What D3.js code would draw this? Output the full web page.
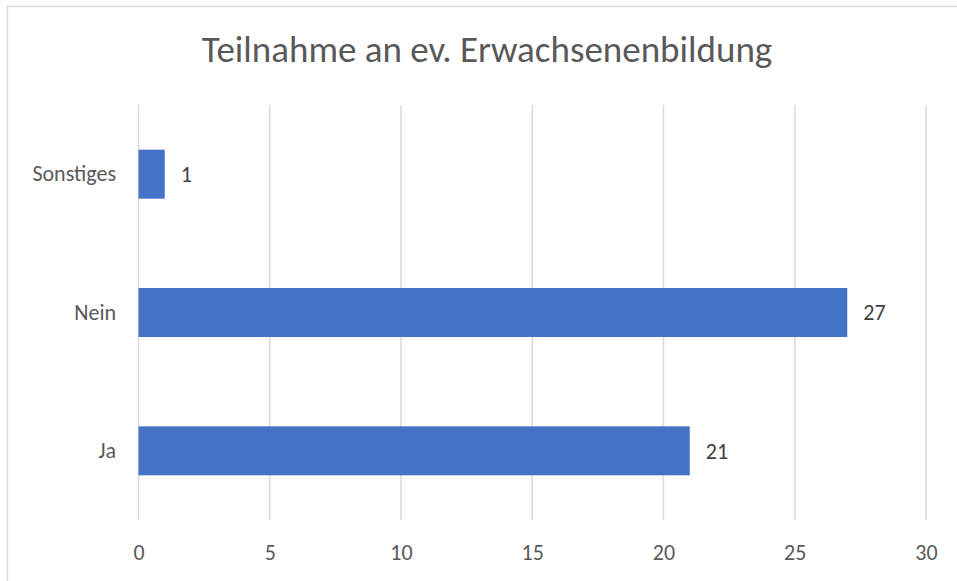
<!DOCTYPE html>
<html>
<head>
<meta charset="utf-8">
<script src="https://d3js.org/d3.v7.min.js"></script>
<style>
  body { margin: 0; background: #fff; }
  text { font-family: Carlito, Lato, "Open Sans", sans-serif; fill: #595959; }
</style>
</head>
<body>
<script>
// chart data
var categories = ["Sonstiges", "Nein", "Ja"];
var values = [1, 27, 21];
var xTicks = [0, 5, 10, 15, 20, 25, 30];
var title = "Teilnahme an ev. Erwachsenenbildung";

var width = 957, height = 581;
var plot = { left: 138.5, right: 926, top: 105, bottom: 520 };

var svg = d3.select("body").append("svg")
    .attr("width", width)
    .attr("height", height);

// outer chart border (runs off the right and bottom)
svg.append("rect")
    .attr("x", 7.5).attr("y", 6.5)
    .attr("width", 970).attr("height", 600)
    .attr("fill", "#fff")
    .attr("stroke", "#d9d9d9")
    .attr("stroke-width", 1.5);

svg.append("text")
    .attr("x", 487).attr("y", 62)
    .attr("text-anchor", "middle")
    .style("font-size", "37px")
    .text(title);

var x = d3.scaleLinear().domain([0, 30]).range([plot.left, plot.right]);
var y = d3.scaleBand().domain(categories)
    .range([plot.top, plot.bottom])
    .paddingInner(0.646).paddingOuter(0.323);

// gridlines
svg.append("g").selectAll("line")
    .data(xTicks).enter().append("line")
    .attr("x1", d => x(d)).attr("x2", d => x(d))
    .attr("y1", plot.top).attr("y2", plot.bottom)
    .attr("stroke", "#d9d9d9")
    .attr("stroke-width", 1.5);

// x axis labels
var xAxis = d3.axisBottom(x).tickValues(xTicks).tickSize(0).tickPadding(0);
var gx = svg.append("g")
    .attr("transform", "translate(0," + (plot.bottom + 40) + ")")
    .call(xAxis);
gx.select(".domain").remove();
gx.selectAll("text").style("font-size", "22px").attr("dy", 0);

// y axis labels
var yAxis = d3.axisLeft(y).tickSize(0).tickPadding(0);
var gy = svg.append("g")
    .attr("transform", "translate(116,0)")
    .call(yAxis);
gy.select(".domain").remove();
gy.selectAll("text").style("font-size", "22px");

// bars
svg.append("g").selectAll("rect")
    .data(values).enter().append("rect")
    .attr("x", x(0))
    .attr("y", (d, i) => y(categories[i]))
    .attr("width", d => x(d) - x(0))
    .attr("height", y.bandwidth())
    .attr("fill", "#4472c4");

// data labels
svg.append("g").selectAll("text")
    .data(values).enter().append("text")
    .attr("x", d => x(d) + 16)
    .attr("y", (d, i) => y(categories[i]) + y.bandwidth() / 2)
    .attr("dy", "0.35em")
    .style("font-size", "22px")
    .style("fill", "#404040")
    .text(d => d);
</script>
</body>
</html>
